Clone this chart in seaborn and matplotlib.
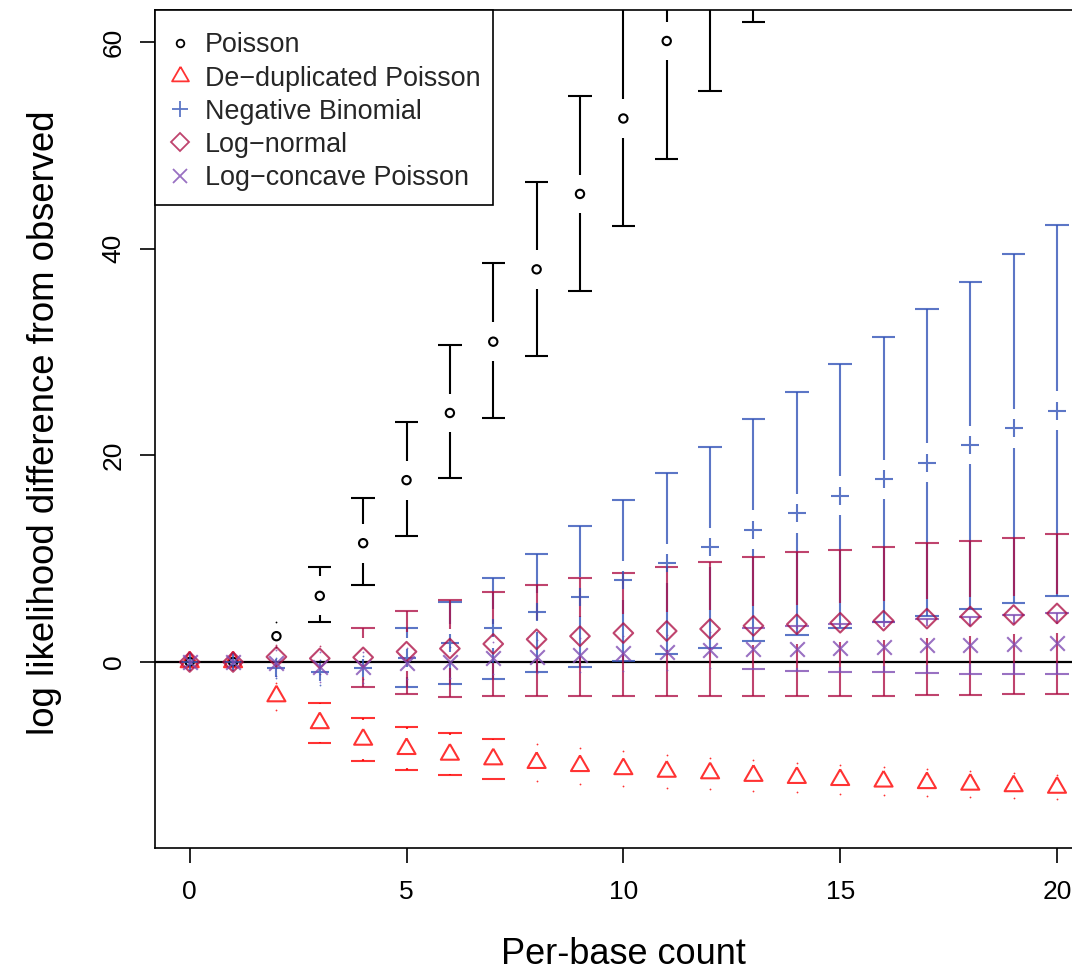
import numpy as np
import matplotlib
matplotlib.use("Agg")
import matplotlib.pyplot as plt
from matplotlib.lines import Line2D
from matplotlib.patches import Rectangle
import seaborn as sns

# ---------------- data ----------------
counts = list(range(21))

poisson_counts = list(range(14))
poisson_mean = [0, 0, 2.5, 6.4, 11.5, 17.6, 24.1, 31.0, 38.0, 45.3, 52.6, 60.1, 67.8, 75.5]
poisson_lower = [0, 0, 1.45, 3.9, 7.45, 12.2, 17.8, 23.6, 29.6, 35.9, 42.2, 48.7, 55.3, 61.9]
poisson_upper = [0, 0, 3.9, 9.2, 15.9, 23.2, 30.7, 38.6, 46.5, 54.8, 63.5, 71.5, 80.0, 88.5]

dedup_mean = [0, 0, -3.3, -5.9, -7.5, -8.4, -8.95, -9.4, -9.75, -10.05, -10.35, -10.6,
              -10.75, -11.0, -11.2, -11.4, -11.55, -11.7, -11.85, -12.0, -12.15]
dedup_upper = [0, 0, -2.0, -3.97, -5.4, -6.3, -6.9, -7.45, -7.95, -8.3, -8.65, -9.0,
               -9.25, -9.5, -9.75, -10.0, -10.2, -10.4, -10.5, -10.75, -10.9]
dedup_lower = [0, 0, -4.6, -7.8, -9.55, -10.45, -10.97, -11.35, -11.55, -11.8, -12.0, -12.2,
               -12.3, -12.45, -12.6, -12.8, -12.9, -13.0, -13.1, -13.2, -13.3]

nb_mean = [0, 0, -0.6, -1.0, -0.6, 0.4, 1.8, 3.25, 4.8, 6.3, 7.9, 9.55, 11.1, 12.8, 14.4,
           16.1, 17.7, 19.3, 21.0, 22.6, 24.3]
nb_upper = [0, 0, 0.4, 0.2, 0.6, 3.3, 5.85, 8.1, 10.5, 13.2, 15.7, 18.3, 20.85, 23.5, 26.1,
            28.8, 31.5, 34.2, 36.8, 39.5, 42.3]
nb_lower = [0, 0, -1.5, -2.2, -1.6, -2.45, -2.1, -1.6, -1.0, -0.45, 0.13, 0.77, 1.4, 2.0, 2.6,
            3.25, 3.9, 4.5, 5.1, 5.75, 6.4]

ln_mean = [0, 0, 0.5, 0.35, 0.45, 1.0, 1.3, 1.75, 2.2, 2.5, 2.8, 3.0, 3.2, 3.5, 3.65, 3.8,
           4.0, 4.2, 4.4, 4.55, 4.7]
ln_upper = [0, 0, 1.6, 1.55, 3.3, 4.9, 6.0, 6.8, 7.5, 8.15, 8.65, 9.2, 9.7, 10.2, 10.6, 10.85,
            11.1, 11.5, 11.7, 12.0, 12.4]
ln_lower = [0, 0, -0.6, -1.2, -2.4, -3.1, -3.35, -3.3, -3.25, -3.25, -3.25, -3.25, -3.3, -3.3,
            -3.3, -3.3, -3.25, -3.2, -3.15, -3.1, -3.1]

lc_mean = [0, 0, -0.1, -0.45, -0.5, -0.1, 0.0, 0.35, 0.5, 0.7, 0.84, 0.95, 1.15, 1.3, 1.3,
           1.4, 1.5, 1.6, 1.65, 1.75, 1.8]
lc_upper = [0, 0, 1.2, 1.0, 1.0, 1.4, 1.5, 1.9, 2.1, 2.35, 2.5, 2.65, 2.9, 3.25, 3.5, 3.7,
            3.9, 4.15, 4.35, 4.55, 4.7]
lc_lower = [0, 0, -1.4, -1.9, -2.0, -1.6, -1.5, -1.2, -1.1, -0.95, -0.85, -0.75, -0.6, -0.7,
            -0.85, -0.93, -1.0, -1.07, -1.13, -1.2, -1.17]

labels = ["Poisson", "De\u2212duplicated Poisson", "Negative Binomial", "Log\u2212normal",
          "Log\u2212concave Poisson"]
x_ticks = [0, 5, 10, 15, 20]
y_ticks = [0, 20, 40, 60]

# ---------------- style ----------------
sns.set_theme(style="white")
plt.rcParams["font.family"] = ["Liberation Sans", "DejaVu Sans"]

c_pois = (0, 0, 0, 1.0)
c_dedup = (1.0, 0.0, 0.0, 0.8)
c_nb = (0.20, 0.33, 0.72, 0.8)
c_ln = (0.68, 0.06, 0.27, 0.78)
c_lc = (0.50, 0.30, 0.70, 0.8)

tri = [(0, 1), (0.866, -0.5), (-0.866, -0.5), (0, 1)]

W, H = 1072, 976
fig = plt.figure(figsize=(W / 100, H / 100), dpi=100)
AX_L, AX_R, AX_B, AX_T = 155, 1091.7, 848, 10
ax = fig.add_axes([AX_L / W, 1 - AX_B / H, (AX_R - AX_L) / W, (AX_B - AX_T) / H])
ax.set_xlim(-0.8, 20.8)
ax.set_ylim(-18.0, 63.1)

GAP = 1.88
CAPW = 0.27
LW = 1.5


def ci(xs, m, lo, up, col):
    for xi, mi, li, ui in zip(xs, m, lo, up):
        for b, sgn in ((ui, 1), (li, -1)):
            if sgn * (b - mi) > GAP:
                ax.vlines(xi, mi + sgn * GAP, b, color=col, lw=LW, zorder=2)
                ax.hlines(b, xi - CAPW, xi + CAPW, color=col, lw=LW, zorder=2)
            elif b != mi:
                ax.plot([xi], [b], marker="o", ms=1.3, mew=0, color=col, zorder=2)


ax.axhline(0, color="black", lw=1.6, zorder=1.5)

ci(poisson_counts, poisson_mean, poisson_lower, poisson_upper, c_pois)
ci(counts, dedup_mean, dedup_lower, dedup_upper, c_dedup)
ci(counts, nb_mean, nb_lower, nb_upper, c_nb)
ci(counts, ln_mean, ln_lower, ln_upper, c_ln)
ci(counts, lc_mean, lc_lower, lc_upper, c_lc)

sns.scatterplot(x=poisson_counts, y=poisson_mean, ax=ax, marker="o", s=6.0 ** 2,
                facecolor="none", edgecolor=c_pois, linewidth=1.5, zorder=3)
sns.scatterplot(x=counts, y=dedup_mean, ax=ax, marker=tri, s=15 ** 2,
                facecolor="none", edgecolor=c_dedup, linewidth=1.5, zorder=3)
sns.scatterplot(x=counts, y=nb_mean, ax=ax, marker="+", s=12.5 ** 2,
                color=c_nb, linewidth=1.5, zorder=3)
sns.scatterplot(x=counts, y=ln_mean, ax=ax, marker="D", s=10 ** 2,
                facecolor="none", edgecolor=c_ln, linewidth=1.5, zorder=3)
sns.scatterplot(x=counts, y=lc_mean, ax=ax, marker="x", s=10.5 ** 2,
                color=c_lc, linewidth=1.5, zorder=3)

# axes styling
for sp in ax.spines.values():
    sp.set_visible(True)
    sp.set_color("black")
    sp.set_linewidth(1.2)
ax.set_xticks(x_ticks)
ax.set_yticks(y_ticks)
ax.tick_params(axis="both", direction="out", length=11, width=1.2, color="black",
               labelsize=19, labelcolor="black", bottom=True, left=True)
ax.tick_params(axis="x", pad=12)
ax.tick_params(axis="y", pad=10)
for t in ax.get_yticklabels():
    t.set_rotation(90)
    t.set_rotation_mode("anchor")
    t.set_ha("center")
    t.set_va("bottom")
ax.grid(False)

ax.set_xlabel("Per-base count", fontsize=26, color="black")
ax.set_ylabel("log likelihood difference from observed", fontsize=26.3, color="black")
ax.xaxis.set_label_coords(0.5, (AX_B - 955) / (AX_B - AX_T))
ax.xaxis.label.set_va("center")
ax.yaxis.set_label_coords((45 - AX_L) / (AX_R - AX_L), (AX_B - 423) / (AX_B - AX_T))
ax.yaxis.label.set_va("center")

# legend: frame drawn as a rectangle, entries placed without frame
ax.add_patch(Rectangle(((0), (AX_B - 205) / (AX_B - AX_T)), (493 - AX_L) / (AX_R - AX_L),
                       (205 - AX_T) / (AX_B - AX_T), transform=ax.transAxes,
                       facecolor="white", edgecolor="black", lw=1.2, zorder=4,
                       clip_on=False))
handles = [
    Line2D([], [], ls="none", marker="o", ms=5.5, mfc="none", mec=c_pois, mew=1.3),
    Line2D([], [], ls="none", marker=tri, ms=14, mfc="none", mec=c_dedup, mew=1.3),
    Line2D([], [], ls="none", marker="+", ms=12, color=c_nb, mew=1.3),
    Line2D([], [], ls="none", marker="D", ms=9.5, mfc="none", mec=c_ln, mew=1.3),
    Line2D([], [], ls="none", marker="x", ms=9.5, color=c_lc, mew=1.3),
]
FS = 19.4
em = FS * 100 / 72
leg = ax.legend(handles, labels, loc="upper left",
                bbox_to_anchor=((170 - AX_L) / (AX_R - AX_L), (AX_B - 32.5) / (AX_B - AX_T)),
                borderaxespad=0, borderpad=0, frameon=False, fontsize=FS,
                handlelength=20 / em, handletextpad=15 / em, labelspacing=0.265)
leg.set_zorder(5)

fig.savefig("out.png", dpi=100)
